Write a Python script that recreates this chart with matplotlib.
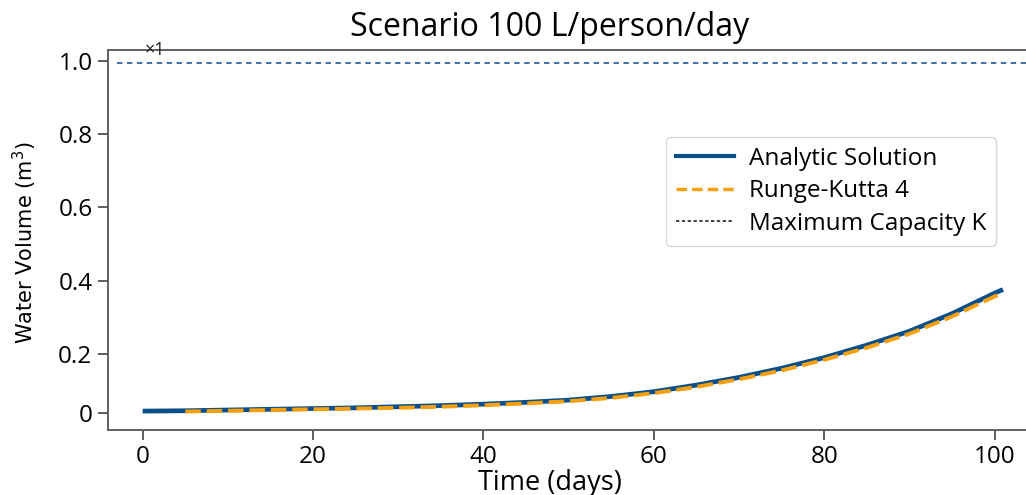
import numpy as np
import matplotlib
matplotlib.use('Agg')
import matplotlib.pyplot as plt
from matplotlib.lines import Line2D

# valores
t = [0, 5, 10, 15, 20, 25, 30, 35, 40, 45, 50, 55, 60, 65, 70, 75, 80, 85, 90, 95, 100, 101]
analitica = [0.044, 0.045, 0.047, 0.049, 0.051, 0.053, 0.056, 0.059, 0.063, 0.068, 0.074, 0.084,
             0.097, 0.115, 0.136, 0.161, 0.190, 0.224, 0.262, 0.310, 0.366, 0.376]
rk4 = [0.042, 0.043, 0.045, 0.047, 0.049, 0.051, 0.053, 0.056, 0.060, 0.065, 0.071, 0.080,
       0.093, 0.110, 0.131, 0.155, 0.184, 0.217, 0.255, 0.302, 0.357, 0.366]
K = 0.994
yticks = [0.04, 0.2, 0.4, 0.6, 0.8, 1.0]
ytick_labels = ['0', '0.2', '0.4', '0.6', '0.8', '1.0']
xticks = [0, 20, 40, 60, 80, 100]

plt.rcParams['font.family'] = ['Open Sans', 'DejaVu Sans']

fig = plt.figure(figsize=(10.26, 4.95), dpi=100)
ax = fig.add_axes([0.105, 0.131, 0.9, 0.768])

ax.plot(t, analitica, color='#0b4f8a', linewidth=3.4, solid_capstyle='butt')
ax.plot(t[1:], rk4[1:], color='#f5a00f', linewidth=2.8, linestyle=(0, (4, 1.5)))
ax.axhline(K, color='#2f64a0', linewidth=1.3, linestyle=(0, (3, 2.5)), xmin=0.01)

ax.set_xlim(-4.1, 104.3)
ax.set_ylim(-0.008, 1.03)
ax.set_xticks(xticks)
ax.set_yticks(yticks)
ax.set_yticklabels(ytick_labels)
ax.tick_params(labelsize=17.5, length=7, width=1.1, color='#333333', pad=4)
for s in ax.spines.values():
    s.set_color('#555555')
    s.set_linewidth(1.3)

ax.text(0.04, 1.0, '×1', transform=ax.transAxes, fontsize=13, va='center', color='#222222')

fig.text(0.536, 0.945, 'Scenario 100 L/person/day', fontsize=23, ha='center', va='center')
fig.text(0.536, 0.025, 'Time (days)', fontsize=19.5, ha='center', va='center')
fig.text(0.024, 0.51, 'Water Volume (m$^3$)', fontsize=15, rotation=90, ha='center', va='center',
         family=['Liberation Sans Narrow', 'DejaVu Sans'])

handles = [Line2D([], [], color='#0b4f8a', linewidth=3),
           Line2D([], [], color='#f5a00f', linewidth=2.5, linestyle=(0, (3, 1.5))),
           Line2D([], [], color='#222222', linewidth=1.2, linestyle=(0, (2, 1.5)))]
ax.legend(handles, ['Analytic Solution', 'Runge-Kutta 4', 'Maximum Capacity K'],
          loc='upper right', bbox_to_anchor=(0.97, 0.79), fontsize=17.5, frameon=True,
          handlelength=2.4, handletextpad=0.6, labelspacing=0.35, borderpad=0.4,
          borderaxespad=0.3)

plt.savefig('out.png', dpi=100)
